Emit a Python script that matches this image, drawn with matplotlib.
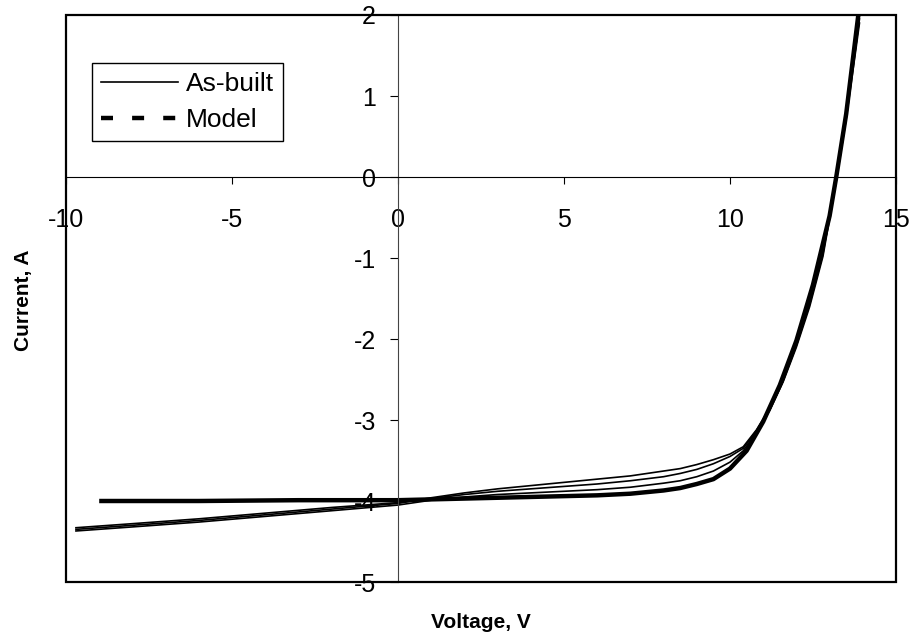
import matplotlib
matplotlib.use("Agg")
import matplotlib.pyplot as plt
from matplotlib.lines import Line2D
from matplotlib.patches import Rectangle

plt.rcParams['font.family'] = ['Liberation Sans', 'DejaVu Sans']

# measured I-V traces (as-built), three sweeps
ab_v = [-9.7, -8, -6, -4, -2, 0, 1, 2, 3, 4, 5, 6, 7, 8, 8.5, 9, 9.5, 10,
        10.4, 10.8, 11.2, 11.6, 12.0, 12.4, 12.8, 13.2, 13.5, 13.8, 13.9]
ab1_i = [-4.35, -4.30, -4.24, -4.17, -4.10, -4.03, -3.96, -3.90, -3.85, -3.81,
         -3.77, -3.73, -3.69, -3.63, -3.60, -3.55, -3.49, -3.42, -3.33, -3.12,
         -2.85, -2.50, -2.05, -1.55, -0.92, 0.0, 0.78, 1.70, 2.0]
ab2_i = [-4.33, -4.28, -4.22, -4.15, -4.08, -4.02, -3.97, -3.92, -3.88, -3.85,
         -3.82, -3.79, -3.75, -3.70, -3.66, -3.61, -3.54, -3.45, -3.35, -3.13,
         -2.87, -2.52, -2.08, -1.57, -0.95, -0.03, 0.75, 1.65, 1.95]
ab3_i = [-4.37, -4.32, -4.26, -4.19, -4.12, -4.05, -3.99, -3.95, -3.92, -3.90,
         -3.88, -3.86, -3.83, -3.78, -3.75, -3.70, -3.63, -3.52, -3.38, -3.15,
         -2.88, -2.53, -2.10, -1.60, -0.98, -0.05, 0.72, 1.60, 1.90]

# model curve
model_v = [-9.0, -6.0, -3.0, 0.0, 2.0, 4.0, 6.0, 7.0, 8.0, 8.5, 9.0, 9.5, 10.0,
           10.5, 11.0, 11.5, 12.0, 12.5, 13.0, 13.2, 13.5, 13.88]
model_i = [-4.00, -4.00, -3.99, -3.99, -3.97, -3.95, -3.93, -3.91, -3.87, -3.84,
           -3.79, -3.73, -3.60, -3.38, -3.02, -2.57, -2.02, -1.33, -0.48, 0.0,
           0.78, 2.05]

x_ticks = [-10, -5, 0, 5, 10, 15]
y_ticks = [-5, -4, -3, -2, -1, 0, 1, 2]

fig = plt.figure(figsize=(9.09, 6.35), dpi=100)
ax = fig.add_axes([66 / 909, 1 - 582 / 635, 830 / 909, 567 / 635])

for cur in (ab1_i, ab2_i, ab3_i):
    ax.plot(ab_v, cur, color='black', lw=1.2)
ax.plot(model_v, model_i, color='black', lw=3.2, solid_capstyle='butt')

ax.set_xlim(-10, 15)
ax.set_ylim(-5, 2)

# axes cross at the origin, outer box drawn separately
ax.spines['left'].set_position(('data', 0))
ax.spines['bottom'].set_position(('data', 0))
ax.spines['left'].set_color('#444444')
ax.spines['left'].set_linewidth(0.8)
ax.spines['bottom'].set_linewidth(0.8)
ax.spines['top'].set_visible(False)
ax.spines['right'].set_visible(False)
ax.add_patch(Rectangle((0, 0), 1, 1, transform=ax.transAxes, fill=False,
                       lw=1.6, ec='black', clip_on=False, zorder=5))

ax.set_xticks(x_ticks)
ax.set_yticks(y_ticks)
ax.set_xticklabels([str(t) for t in x_ticks])
ax.set_yticklabels([str(t) for t in y_ticks])
ax.tick_params(axis='x', direction='out', length=5, width=0.8, pad=17, labelsize=18)
ax.tick_params(axis='y', direction='out', length=6, width=0.8, pad=10, labelsize=18)

fig.text(481 / 909, 1 - 622 / 635, 'Voltage, V', ha='center', va='center',
         fontsize=15, fontweight='bold')
fig.text(24 / 909, 1 - 300 / 635, 'Current, A', ha='center', va='center',
         rotation=90, fontsize=15, fontweight='bold')

handles = [Line2D([], [], color='black', lw=1.2),
           Line2D([], [], color='black', lw=3.2, linestyle=(0, (2.7, 4.3)))]
leg = ax.legend(handles, ['As-built', 'Model'], loc='upper left',
                bbox_to_anchor=(26 / 830, 1 - 48 / 567), borderaxespad=0,
                fontsize=19, handlelength=2.9, handletextpad=0.3,
                labelspacing=0.45, borderpad=0.35, fancybox=False, framealpha=1)
leg.get_frame().set_edgecolor('black')
leg.get_frame().set_linewidth(1.0)

fig.savefig('out.png', dpi=100)
